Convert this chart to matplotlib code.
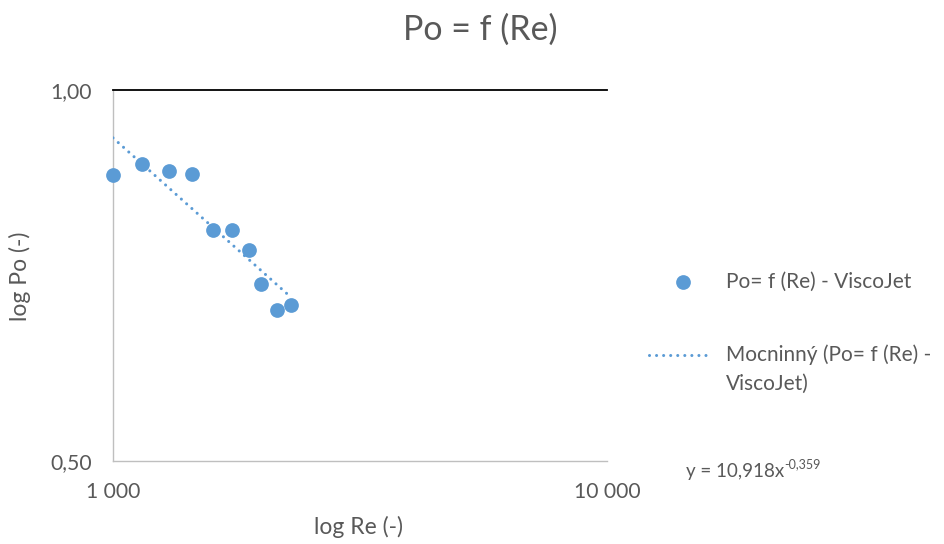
import numpy as np
import matplotlib
matplotlib.use("Agg")
import matplotlib.pyplot as plt
from matplotlib.lines import Line2D

plt.rcParams['font.family'] = ['Lato', 'DejaVu Sans']

# data
re_vals = [1000, 1146, 1296, 1443, 1591, 1739, 1885, 1996, 2145, 2296]
po_vals = [0.853, 0.871, 0.860, 0.855, 0.770, 0.770, 0.742, 0.696, 0.663, 0.669]
trend_coef = 10.918
trend_exp = -0.359

x_ticks = [1000, 10000]
x_labels = ['1 000', '10 000']
y_ticks = [0.5, 1.0]
y_labels = ['0,50', '1,00']

blue = '#5B9BD5'
grey = '#595959'

W, H = 944, 544
fig = plt.figure(figsize=(W/100, H/100), dpi=100)
ax = fig.add_axes([113/W, 1-461/H, (607-113)/W, (461-90)/H])

ax.set_xscale('log')
ax.set_yscale('log')
ax.set_xlim(1000, 10000)
ax.set_ylim(0.5, 1.0)

ax.plot(re_vals, po_vals, 'o', color=blue, markersize=10.6,
        markeredgewidth=0, clip_on=False, zorder=4)

# power trend line over the data range
xt = np.linspace(min(re_vals), max(re_vals), 100)
yt = trend_coef * xt ** trend_exp
dots = (0, (0.01, 2.3))
ax.plot(xt, yt, color=blue, lw=2.2, linestyle=dots,
        dash_capstyle='round', zorder=3)

ax.set_xticks(x_ticks)
ax.set_xticklabels(x_labels)
ax.set_yticks(y_ticks)
ax.set_yticklabels(y_labels)
ax.minorticks_off()
ax.tick_params(length=0, labelsize=15.2, labelcolor=grey, pad=15)

for s in ['left', 'bottom']:
    ax.spines[s].set_color('#BFBFBF')
    ax.spines[s].set_linewidth(1.0)
ax.spines['right'].set_visible(False)
ax.spines['top'].set_color('black')
ax.spines['top'].set_linewidth(1.3)

fig.text(480/W, 1-30/H, 'Po = f (Re)', ha='center', va='center',
         fontsize=24.5, color=grey)
fig.text(358/W, 1-527/H, 'log Re (-)', ha='center', va='center',
         fontsize=16.5, color=grey)
fig.text(20/W, 1-276/H, 'log Po (-)', ha='center', va='center',
         fontsize=16.5, color=grey, rotation=90)

# legend, drawn by hand so the handle sits on the first text line
fig.add_artist(Line2D([683/W], [1-282/H], transform=fig.transFigure,
                      marker='o', color=blue, markersize=10.6,
                      markeredgewidth=0, linestyle='none'))
fig.text(726/W, 1-282/H, 'Po= f (Re) - ViscoJet', ha='left', va='center',
         fontsize=15, color=grey)
fig.add_artist(Line2D([649/W, 712/W], [1-355/H, 1-355/H],
                      transform=fig.transFigure, color=blue, lw=2.2,
                      linestyle=dots, dash_capstyle='round'))
fig.text(726/W, 1-355/H, 'Mocninný (Po= f (Re) -', ha='left',
         va='center', fontsize=15, color=grey)
fig.text(726/W, 1-384/H, 'ViscoJet)', ha='left', va='center',
         fontsize=15, color=grey)

# trend equation with a plain-text superscript
eq = fig.text(686/W, 1-472/H, 'y = 10,918x', ha='left', va='center',
              fontsize=13.5, color=grey)
ax.annotate('-0,359', xy=(1.0, 0.62), xycoords=eq, ha='left', va='bottom',
            fontsize=9, color=grey, annotation_clip=False)

fig.savefig('out.png', dpi=100)
